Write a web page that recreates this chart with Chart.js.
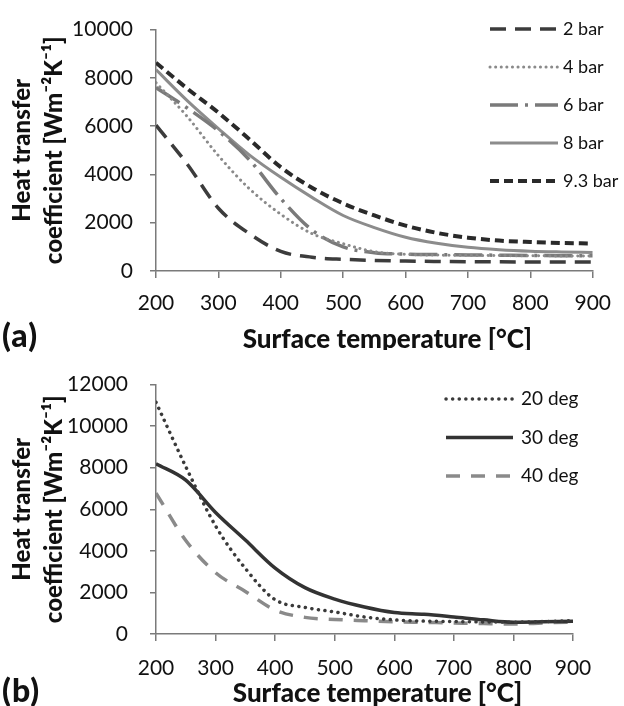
<!DOCTYPE html>
<html>
<head>
<meta charset="utf-8">
<script src="https://cdn.jsdelivr.net/npm/chart.js@4.4.1/dist/chart.umd.min.js"></script>
<style>
body{margin:0;background:#fff;width:624px;height:706px;position:relative;overflow:hidden;font-family:Lato,sans-serif;}
#boxA{position:absolute;left:0;top:0;width:624px;height:350px;}
#boxB{position:absolute;left:0;top:350px;width:624px;height:356px;}
.tag{position:absolute;left:2px;font:900 32px Lato,sans-serif;color:#111;line-height:34px;letter-spacing:1px;}
</style>
</head>
<body>
<div id="boxA"><canvas id="chartA"></canvas></div>
<div id="boxB"><canvas id="chartB"></canvas></div>
<div class="tag" style="top:318px">(a)</div>
<div class="tag" style="top:673px">(b)</div>
<script>
// surface temperature, every 50 °C
const temps = [200,250,300,350,400,450,500,550,600,650,700,750,800,850,900];

// (a) pressure series
const bar2  = [6040,4430,2600,1540,810,570,485,440,410,395,385,380,375,370,370];
const bar4  = [7800,6400,4780,3400,2350,1550,1130,800,690,660,650,640,630,625,620];
const bar6  = [7600,6750,5800,4600,3000,1700,1000,760,700,680,665,655,645,635,630];
const bar8  = [8340,7060,5900,4800,3880,3050,2300,1800,1400,1150,980,880,820,790,770];
const bar93 = [8630,7560,6560,5450,4300,3450,2800,2300,1880,1580,1380,1260,1200,1160,1140];

// (b) angle series
const deg20 = [11150,8050,5200,3150,1650,1280,1060,820,680,620,600,580,570,600,640];
const deg30 = [8190,7400,5850,4520,3170,2230,1680,1300,1035,950,820,680,570,590,610];
const deg40 = [6780,4500,2950,2050,1150,800,700,640,590,560,530,500,480,530,580];

const xTicks = [200,300,400,500,600,700,800,900];
const yTitle = ["Heat transfer","coefficient [Wm\u207B\u00B2K\u207B\u00B9]"];
const xTitle = "Surface temperature [\u00B0C]";

function pts(vals){
return temps.map((t,i)=>({x:t,y:vals[i]}));
}

const sideLegend = {
id:"sideLegend",
afterDraw(chart,args,o){
const ctx=chart.ctx;
ctx.save();
chart.data.datasets.forEach((ds,i)=>{
let y=o.y0+i*o.gap;
ctx.beginPath();
ctx.strokeStyle=ds.borderColor;
ctx.lineWidth=ds.borderWidth;
ctx.setLineDash(ds.borderDash||[]);
ctx.lineCap=ds.borderCapStyle||"butt";
ctx.moveTo(o.x0,y);
ctx.lineTo(o.x1,y);
ctx.stroke();
ctx.setLineDash([]);
ctx.fillStyle="#111";
ctx.font=o.font;
ctx.textBaseline="middle";
ctx.fillText(ds.label,o.x1+o.textGap,y);
});
ctx.restore();
}
};

function makeChart(id,datasets,yMax,c){
return new Chart(document.getElementById(id),{
type:"line",
data:{datasets:datasets},
plugins:[sideLegend],
options:{
responsive:true,
maintainAspectRatio:false,
animation:false,
events:[],
layout:{padding:{top:c.top,right:c.right,left:0,bottom:0}},
elements:{point:{radius:0},line:{cubicInterpolationMode:"monotone"}},
plugins:{
legend:{display:false},
tooltip:{enabled:false},
sideLegend:c.legend
},
scales:{
x:{
type:"linear",min:200,max:900,
afterFit:s=>{s.height=c.xh;},
afterBuildTicks:s=>{s.ticks=xTicks.map(v=>({value:v}));},
grid:{drawOnChartArea:false,tickLength:7,color:"#7a7a7a",lineWidth:1.5},
border:{color:"#7a7a7a",width:1.5},
ticks:{color:"#111",font:{family:"Lato",size:21},padding:c.xpad,maxRotation:0,callback:v=>String(v)},
title:{display:true,text:"\u2002\u2002"+xTitle,color:"#111",font:{family:"Lato",size:26,weight:"900",lineHeight:0.8},padding:{top:0,bottom:c.xtb}}
},
y:{
min:0,max:yMax,
afterFit:s=>{s.width=156;},
grid:{drawOnChartArea:false,tickLength:6,color:"#7a7a7a",lineWidth:1.5},
border:{color:"#7a7a7a",width:1.5},
ticks:{stepSize:2000,color:"#111",font:{family:"Lato",size:21},padding:c.ypad,callback:v=>String(v)},
title:{display:true,text:yTitle,color:"#111",font:{family:"Lato",size:24,weight:"900",lineHeight:1.333},padding:{top:6,bottom:0}}
}
}
}
});
}

makeChart("chartA",[
{label:"2 bar",data:pts(bar2),borderColor:"#3c3c3c",borderWidth:3.5,borderDash:[16,9]},
{label:"4 bar",data:pts(bar4),borderColor:"#8a8a8a",borderWidth:3,borderDash:[0.1,5.5],borderCapStyle:"round"},
{label:"6 bar",data:pts(bar6),borderColor:"#7a7a7a",borderWidth:3.5,borderDash:[28,7,3,7]},
{label:"8 bar",data:pts(bar8),borderColor:"#8c8c8c",borderWidth:3},
{label:"9.3 bar",data:pts(bar93),borderColor:"#2a2a2a",borderWidth:4,borderDash:[9,5]}
],10000,{top:24,right:31,xh:79,xpad:13,xtb:0,ypad:17,
legend:{x0:490,x1:558,textGap:5,y0:29,gap:38,font:"18px Lato"}});

makeChart("chartB",[
{label:"20 deg",data:pts(deg20),borderColor:"#3a3a3a",borderWidth:3.5,borderDash:[0.1,6.5],borderCapStyle:"round"},
{label:"30 deg",data:pts(deg30),borderColor:"#333333",borderWidth:3.5},
{label:"40 deg",data:pts(deg40),borderColor:"#8a8a8a",borderWidth:3.5,borderDash:[14,11]}
],12000,{top:29,right:51,xh:72,xpad:15,xtb:1.5,ypad:22,
legend:{x0:446,x1:513,textGap:8,y0:49,gap:38.5,font:"19px Lato"}});
</script>
</body>
</html>
